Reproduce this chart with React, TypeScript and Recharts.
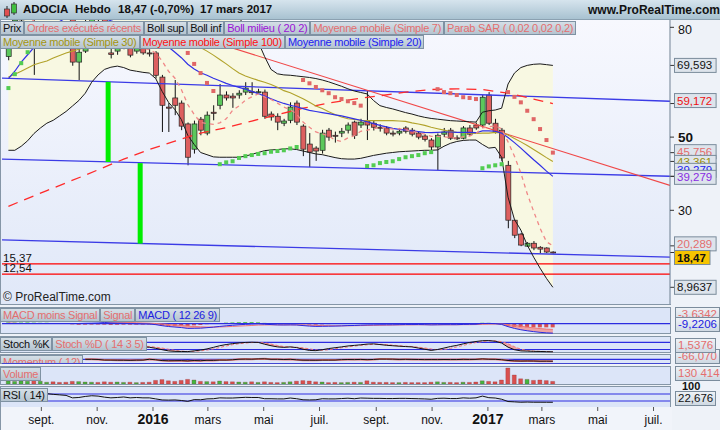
import React from 'react';
import { ComposedChart, Bar, Line, Area, Scatter, XAxis, YAxis, ReferenceLine, Cell } from 'recharts';

// ADOCIA weekly candles, first candle week of 27 Jul 2015, last week of 13 Mar 2017
const firstWeek = '2015-07-27';

const open = [
  72, 78, 82, 84, 88, 85, 89, 92, 90, 88,
  86, 70.5, 73.5, 80, 84, 83, 73.0, 73.5, 74.6, 74.3,
  73.5, 74.6, 73.0, 73.0, 66.4, 58.2, 60.7, 59.3, 53.6, 46.7,
  54.9, 51.1, 56.8, 58.7, 61.5, 61.2, 61.5, 62.3, 62.4, 62.2,
  62.3, 56.3, 55.7, 53.8, 54.6, 59.3, 53.0, 48.1, 47.0, 46.4,
  51.9, 50.5, 51.1, 51.9, 54.1, 53.3, 54.4, 53.8, 52.7, 52.5,
  51.1, 51.1, 52.5, 51.9, 51.1, 50.3, 49.2, 47.3, 50.8, 51.9,
  49.8, 49.7, 52.5, 53.3, 53.3, 61.5, 53.8, 51.9, 42.3, 27.3,
  23.5, 20.2, 21.0, 19.9, 19.7, 18.6,
];
const high = [
  80, 85, 88, 91, 90, 92, 95, 94, 92, 90,
  88, 76, 82, 86, 86, 84, 76, 77, 79, 76,
  76, 75.5, 74, 73.5, 67, 59.3, 65.6, 60, 54, 54.5,
  55.5, 57, 58.7, 64.5, 62.5, 62, 62.8, 65, 65, 63.2,
  63, 57, 56.5, 55, 59.5, 60, 53.5, 51.1, 47.5, 52,
  52.5, 51.5, 52.5, 54, 54.5, 55, 62.8, 54.5, 53.5, 53,
  51.8, 52.5, 53, 52.5, 51.6, 50.8, 49.7, 51, 52.5, 52.5,
  50.5, 53, 53.3, 54, 61.5, 62.3, 55, 52.5, 43.5, 27.5,
  23.8, 21.3, 21.6, 20.2, 19.9, 18.8,
];
const low = [
  71, 76, 79, 82, 67, 83, 87, 86, 85, 83,
  69.5, 65.6, 73, 78, 80, 75, 71.5, 72.5, 74, 71.8,
  72.8, 72.5, 72, 66, 51.4, 51.4, 56, 51.9, 42.3, 45.5,
  50.5, 50.5, 54.6, 57.6, 60, 58, 60.5, 61.5, 61.5, 61.8,
  55, 54.5, 51.9, 53, 53.8, 53.3, 44.8, 41.8, 43.5, 45.5,
  49, 48.5, 50, 51, 49.5, 52.5, 49.2, 51.8, 51.5, 50.5,
  50.2, 50.5, 51, 50.2, 49.4, 48.8, 46.5, 41, 50, 49.2,
  49.2, 49.4, 50.3, 52, 52.5, 53.3, 51, 43.5, 25.1, 22.4,
  20.2, 20.0, 19.1, 18.3, 18.3, 18.2,
];
const close = [
  78, 82, 84, 88, 85, 89, 92, 90, 88, 86,
  70.5, 73.2, 80, 84, 83, 76, 72.6, 74.6, 77, 72.4,
  74.6, 73.0, 72.8, 66.9, 58.7, 57.9, 58.7, 53.0, 44.5, 53.6,
  51.9, 56.0, 56.5, 61.5, 60.7, 60.7, 62.0, 63.4, 62.2, 62.4,
  55.7, 55.5, 54.1, 54.4, 58.2, 54.1, 46.7, 45.9, 46.2, 51.1,
  50.0, 50.4, 51.6, 53.3, 50.5, 54.1, 53.3, 52.7, 52.5, 51.1,
  51.0, 51.6, 51.6, 50.8, 50.0, 49.4, 47.3, 50.5, 51.4, 49.7,
  49.6, 52.5, 50.8, 52.5, 60.9, 53.8, 51.6, 44.3, 27.3, 23.2,
  20.5, 21.0, 19.7, 19.4, 18.6, 18.47,
];
// thousands of shares
const volume = [
  150, 130, 150, 140, 200, 140, 90, 110, 80, 90,
  130, 120, 100, 90, 80, 110, 90, 100, 80, 90,
  70, 80, 90, 180, 220, 160, 130, 180, 230, 200,
  130, 120, 110, 150, 120, 110, 100, 90, 110, 80,
  110, 80, 70, 80, 110, 140, 170, 150, 110, 100,
  70, 80, 70, 80, 90, 80, 160, 90, 80, 80,
  70, 70, 80, 70, 70, 70, 90, 110, 80, 80,
  70, 90, 80, 100, 160, 130, 110, 200, 800, 450,
  260, 230, 180, 200, 170, 130.4,
];

const sma7 = [
  76, 77.5, 79, 81, 82, 83.5, 85.4, 87.1, 88.0, 88.3,
  85.8, 84.1, 82.8, 81.7, 80.7, 79.0, 77.0, 77.6, 78.2, 77.1,
  75.7, 74.3, 73.9, 73.0, 70.8, 68.0, 66.1, 63.0, 58.9, 56.2,
  54.0, 53.7, 53.5, 53.9, 55.0, 57.3, 58.5, 60.1, 61.0, 61.8,
  61.0, 60.3, 59.3, 58.2, 57.5, 56.3, 54.1, 52.7, 51.4, 50.9,
  50.3, 49.2, 48.8, 49.8, 50.4, 51.6, 51.9, 52.3, 52.6, 52.5,
  52.2, 52.3, 52.0, 51.6, 51.2, 50.8, 50.2, 50.2, 50.1, 49.9,
  49.7, 50.1, 50.3, 51.0, 52.5, 52.8, 53.1, 52.3, 48.7, 44.8,
  40.2, 34.5, 29.7, 25.1, 21.4, 20.29,
];
const sma20 = [
  66, 68, 70.5, 72.5, 74.5, 76.5, 78.5, 80.2, 81.6, 82.6,
  82.6, 82.6, 82.8, 83.0, 82.8, 82.4, 81.8, 81.2, 80.6, 80.0,
  79.2, 78.4, 77.8, 76.9, 75.9, 74.6, 73.2, 71.7, 69.9, 68.6,
  67.6, 66.9, 66.1, 65.4, 64.7, 64.1, 63.6, 63.1, 62.5, 61.9,
  61.2, 60.5, 59.8, 59.2, 58.7, 58.3, 57.8, 57.3, 57.0, 56.7,
  56.4, 56.1, 55.8, 55.4, 55.0, 54.6, 54.2, 53.7, 53.2, 52.8,
  52.4, 52.1, 51.9, 51.7, 51.5, 51.3, 51.2, 51.3, 51.4, 51.4,
  51.3, 51.3, 51.3, 51.2, 51.7, 51.7, 51.6, 51.1, 49.9, 48.5,
  47.0, 45.4, 43.8, 42.3, 40.7, 39.28,
];
const sma30 = [
  66.4, 67.2, 68.0, 68.9, 69.8, 70.3, 70.8, 71.6, 72.3, 73.0,
  73.5, 74.0, 74.4, 74.9, 75.4, 75.8, 76.1, 76.4, 76.6, 76.8,
  76.9, 76.9, 76.8, 76.6, 76.4, 76.2, 76.0, 75.7, 75.4, 75.0,
  74.5, 73.5, 72.4, 71.2, 70.0, 68.7, 67.5, 66.7, 66.1, 65.5,
  65.0, 64.4, 63.6, 62.7, 62.1, 61.3, 60.5, 59.5, 58.5, 57.8,
  56.9, 56.2, 55.5, 55.0, 54.8, 54.6, 54.5, 54.5, 54.5, 54.5,
  54.5, 54.4, 54.3, 53.9, 53.6, 53.2, 52.7, 52.3, 51.9, 51.5,
  51.3, 51.2, 51.1, 51.0, 51.1, 51.1, 51.3, 51.2, 50.6, 49.6,
  48.7, 47.7, 46.6, 45.5, 44.4, 43.36,
];
const sma100Idx = [0, 6, 12, 18, 22, 26, 30, 34, 38, 42, 46, 50, 54, 58, 62, 66, 70, 74, 78, 82, 85];
const sma100Val = [31.1, 35.4, 39.6, 44.0, 46.6, 48.9, 51.1, 52.6, 54.4, 56.1, 57.9, 59.3, 60.4, 61.3, 62.3, 63.0, 63.2, 63.0, 62.0, 60.4, 59.17];

const bollUp = [
  85.6, 89.6, 93.5, 96, 98, 100, 102, 104, 105, 105,
  104, 103, 101, 99, 97, 95, 93, 92, 91, 90.5,
  90, 89.5, 89, 89, 89.5, 90, 90, 90, 90, 90,
  90, 89, 88, 87, 85.5, 84, 82.5, 80.5, 78.5, 76,
  72, 68.5, 67.3, 67.0, 66.9, 66.7, 66.5, 66.3, 66.0, 65.6,
  65.1, 64.5, 63.9, 63.2, 62.6, 62.2, 61.8, 60.0, 58.6, 58.1,
  57.7, 57.2, 56.7, 56.3, 55.8, 55.4, 55.1, 54.9, 54.7, 54.5,
  54.4, 54.3, 54.2, 54.1, 56.8, 57.2, 57.4, 57.9, 64.5, 67.5,
  69.0, 69.6, 69.9, 70.0, 69.8, 69.59,
];
const bollLow = [
  46.4, 46.4, 47.5, 49, 51, 52.5, 53.8, 54.6, 55.8, 57,
  58.5, 60, 62, 65, 67, 68.5, 69.1, 69.4, 69, 68.3,
  68, 67.7, 67.5, 66, 62.5, 59.5, 57.5, 54.8, 50.5, 48,
  45.8, 45.2, 44.6, 44.5, 44.5, 44.5, 44.5, 44.8, 45.3, 45.8,
  46.3, 46.5, 46.6, 46.8, 46.8, 46.6, 46.2, 45.8, 45.4, 45.2,
  44.8, 44.4, 44.1, 44.0, 44.0, 44.2, 44.6, 45.0, 45.3, 45.6,
  45.8, 46.0, 46.1, 46.2, 46.3, 46.4, 46.4, 46.5, 47.5, 48.3,
  48.8, 49.1, 49.2, 49.2, 48.0, 47.0, 47.2, 44.5, 33.6, 27.5,
  24.6, 20.5, 17.2, 14.2, 11.4, 8.96,
];

// parabolic SAR (candle index, value), only the visible dots
const sarRedIdx = [28, 29, 30, 31, 32, 46, 47, 48, 49, 50, 51, 52, 53, 54, 55, 67, 68, 69, 70, 71, 72, 73, 78, 79, 80, 81, 82, 83, 84, 85];
const sarRedVal = [73.0, 70.0, 67.5, 64.8, 62.6, 65.6, 64.7, 63.7, 62.8, 62.0, 60.9, 60.4, 59.8, 59.3, 58.6, 63.1, 62.3, 62.0, 61.5, 60.9, 60.7, 60.4, 62.3, 61.0, 59.5, 57.2, 54.9, 52.2, 49.2, 45.76];
const sarGreenIdx = [0, 1, 2, 3, 33, 34, 35, 36, 37, 38, 39, 40, 41, 42, 43, 44, 45, 56, 57, 58, 59, 60, 61, 62, 63, 64, 65, 66, 74, 75, 76, 77];
const sarGreenVal = [63.4, 67.2, 70.2, 73.2, 42.6, 43.1, 43.4, 44.3, 44.8, 45.1, 45.4, 45.6, 46.0, 46.2, 46.4, 46.9, 47.3, 42.1, 42.3, 42.9, 43.2, 43.4, 44.0, 44.5, 44.8, 45.1, 45.6, 45.9, 41.5, 42.0, 42.3, 42.6];

const macd = [
  2.5, 2.8, 3.1, 3.5, 3.6, 3.8, 4.0, 4.0, 3.8, 3.5,
  2.6, 2.0, 1.8, 1.7, 1.5, 1.1, 0.6, 0.4, 0.3, 0.0,
  -0.2, -0.3, -0.4, -1.0, -2.0, -2.8, -3.3, -3.8, -4.6, -4.5,
  -4.4, -3.9, -3.4, -2.7, -2.1, -1.6, -1.1, -0.7, -0.4, -0.2,
  -0.6, -0.9, -1.2, -1.3, -1.2, -1.3, -1.9, -2.4, -2.7, -2.6,
  -2.5, -2.4, -2.2, -1.9, -1.8, -1.5, -1.3, -1.2, -1.1, -1.1,
  -1.1, -1.0, -0.9, -0.9, -0.9, -1.0, -1.2, -1.1, -1.0, -1.0,
  -1.0, -0.8, -0.7, -0.6, 0.1, 0.2, 0.0, -0.8, -2.9, -4.6,
  -5.9, -6.9, -7.7, -8.4, -8.9, -9.22,
];
const signal = [
  1.5, 1.8, 2.1, 2.4, 2.7, 3.0, 3.2, 3.4, 3.5, 3.5,
  3.3, 3.1, 2.8, 2.6, 2.4, 2.1, 1.8, 1.5, 1.3, 1.0,
  0.8, 0.6, 0.4, 0.1, -0.3, -0.8, -1.3, -1.8, -2.4, -2.8,
  -3.1, -3.3, -3.3, -3.2, -3.0, -2.7, -2.4, -2.1, -1.8, -1.4,
  -1.3, -1.2, -1.2, -1.2, -1.2, -1.2, -1.3, -1.5, -1.7, -1.9,
  -2.0, -2.1, -2.1, -2.1, -2.0, -1.9, -1.8, -1.7, -1.6, -1.5,
  -1.4, -1.3, -1.2, -1.2, -1.1, -1.1, -1.1, -1.1, -1.1, -1.1,
  -1.1, -1.0, -1.0, -0.9, -0.7, -0.5, -0.4, -0.5, -1.0, -1.7,
  -2.5, -3.4, -4.1, -4.8, -5.3, -5.59,
];
const macdHist = [
  1.0, 1.0, 1.0, 1.1, 0.9, 0.8, 0.8, 0.6, 0.3, 0.0,
  -0.7, -1.1, -1.0, -0.9, -0.9, -1.0, -1.2, -1.1, -1.0, -1.0,
  -1.0, -0.9, -0.8, -1.1, -1.7, -2.0, -2.0, -2.0, -2.2, -1.7,
  -1.3, -0.6, -0.1, 0.5, 0.9, 1.1, 1.3, 1.4, 1.4, 1.2,
  0.7, 0.3, 0.0, -0.1, 0.0, -0.1, -0.6, -0.9, -1.0, -0.7,
  -0.5, -0.3, -0.1, 0.2, 0.2, 0.4, 0.5, 0.5, 0.5, 0.4,
  0.3, 0.3, 0.3, 0.3, 0.2, 0.1, -0.1, 0.0, 0.1, 0.1,
  0.1, 0.2, 0.3, 0.3, 0.8, 0.7, 0.4, -0.3, -1.9, -2.9,
  -3.4, -3.5, -3.6, -3.6, -3.6, -3.63,
];

const stochK = [
  85, 88, 80, 90, 70, 85, 92, 80, 70, 65,
  30, 40, 70, 85, 80, 55, 40, 55, 65, 45,
  45, 42, 39, 30, 18, 8, 4, 3, 2, 8,
  15, 25, 38, 52, 62, 70, 76, 80, 82, 80,
  65, 52, 42, 38, 42, 36, 22, 12, 10, 18,
  28, 35, 42, 50, 55, 60, 66, 68, 62, 56,
  52, 48, 45, 42, 32, 22, 12, 20, 32, 45,
  55, 68, 80, 88, 95, 96, 90, 75, 40, 18,
  8, 6, 4, 3, 1.5, 0.5,
];
const stochD = [
  80, 84, 84, 85, 80, 80, 82, 86, 81, 75,
  55, 45, 47, 65, 78, 73, 58, 50, 53, 55,
  55, 50, 45, 40, 32, 22, 12, 6, 3, 4,
  8, 15, 25, 37, 50, 61, 69, 75, 79, 81,
  76, 66, 54, 45, 41, 39, 34, 25, 16, 13,
  18, 26, 35, 42, 49, 55, 60, 64, 65, 62,
  57, 52, 48, 45, 40, 33, 24, 18, 20, 30,
  42, 55, 68, 79, 88, 93, 94, 87, 68, 44,
  22, 11, 6, 4, 2.5, 1.54,
];
const momentum = [
  null, null, null, null, null, null, null, null, null, null, null, null,
  2, 2, -1, -12, -12.4, -14.4, -15, -17.6, -13.4, -13,
  2.3, -6.3, -21.3, -26.1, -24.3, -23, -28.1, -21, -25.1, -16.4,
  -18.1, -11.5, -12.1, -6.2, 3.3, 5.5, 3.5, 9.4, 11.2, 1.9,
  2.2, -1.6, 1.7, -7.4, -14, -14.8, -15.8, -12.3, -12.2, -12,
  -4.1, -2.2, -3.6, -0.3, -4.9, -1.4, 5.8, 5.2, 4.8, 0.5,
  1.6, 0.4, -1.6, -3.9, -3.2, -3.6, -1.9, -3, -2.9, 1.4,
  -0.2, 0.9, 9.3, 3, 1.6, -5.1, -20, -27.3, -30.9, -28.7,
  -29.9, -33.1, -32.2, -34,
];
const rsi = [
  68, 70, 70, 72, 68, 70, 72, 68, 65, 62,
  48, 50, 56, 60, 58, 52, 48, 50, 53, 48,
  50, 48, 48, 42, 36, 35, 36, 33, 28, 38,
  37, 42, 43, 48, 47, 47, 49, 51, 50, 50,
  43, 43, 42, 42, 47, 43, 37, 36, 37, 43,
  42, 42, 44, 46, 43, 47, 46, 45, 45, 44,
  44, 45, 45, 44, 43, 42, 40, 45, 46, 44,
  44, 48, 46, 48, 58, 49, 47, 40, 27, 25,
  23, 24, 23, 23, 22.8, 22.676,
];

// x axis
const tickDates = ['2015-09-01', '2015-11-01', '2016-01-01', '2016-03-01', '2016-05-01', '2016-07-01', '2016-09-01', '2016-11-01', '2017-01-01', '2017-03-01', '2017-05-01', '2017-07-01'];
const tickLabels = ['sept.', 'nov.', '2016', 'mars', 'mai', 'juil.', 'sept.', 'nov.', '2017', 'mars', 'mai', 'juil.'];
const viewStart = '2015-07-20';
const viewEnd = '2017-07-19';

// drawn objects: [date, price] -> [date, price]
const blueLines = [
  [['2015-07-20', 66.1], ['2017-07-19', 59.8]],
  [['2015-07-20', 44.0], ['2017-07-19', 39.3]],
  [['2015-07-20', 21.9], ['2017-07-19', 17.2]],
];
const redLine = [['2015-12-29', 81.4], ['2017-07-19', 36.8]];
const greenBars = [
  [['2015-11-13', 65.1], ['2015-11-13', 43.2]],
  [['2015-12-18', 42.9], ['2015-12-18', 20.9]],
];
const levels = [15.37, 12.54];

const DAY0 = Date.UTC(2016, 0, 1);
const dayOf = (iso: string) => Math.round((Date.parse(iso + 'T00:00:00Z') - DAY0) / 86400000);
const firstDay = dayOf(firstWeek);
const xDomain = [dayOf(viewStart), dayOf(viewEnd)];
const tickDays = tickDates.map(dayOf);

const rows = close.map((c, k) => {
  const m = macd[k];
  const s = signal[k];
  return {
    day: firstDay + 7 * k,
    open: open[k],
    high: high[k],
    low: low[k],
    close: c,
    range: [low[k], high[k]],
    sma7: sma7[k],
    sma20: sma20[k],
    sma30: sma30[k],
    sma100: sma100Idx.indexOf(k) >= 0 ? sma100Val[sma100Idx.indexOf(k)] : null,
    band: [bollLow[k], bollUp[k]],
    bollUp: bollUp[k],
    bollLow: bollLow[k],
    vol: volume[k],
    macd: m,
    signal: s,
    hist: macdHist[k],
    macdFill: s > m ? [m, s] : [m, m],
    k: stochK[k],
    d: stochD[k],
    stochFill: stochD[k] > stochK[k] ? [stochK[k], stochD[k]] : [stochK[k], stochK[k]],
    mom: momentum[k],
    rsi: rsi[k],
  };
});
const sarRed = sarRedIdx.map((k, j) => ({ day: firstDay + 7 * k, sar: sarRedVal[j] }));
const sarGreen = sarGreenIdx.map((k, j) => ({ day: firstDay + 7 * k, sar: sarGreenVal[j] }));

const FONT = '"Liberation Sans", Arial, sans-serif';
const RED = '#dd5f5f';
const GREEN = '#5cc85c';
const PINK = '#e46e6e';

const Candle = (props: any) => {
  const { x, width, payload } = props;
  let { y, height } = props;
  if (height < 0) { y += height; height = -height; }
  const { open: o, close: c, high: h, low: l } = payload;
  const k = height / (h - l || 1);
  const yOf = (v: number) => y + (h - v) * k;
  const cx = x + width / 2;
  const top = yOf(Math.max(o, c));
  const bot = yOf(Math.min(o, c));
  return (
    <g>
      <line x1={cx} x2={cx} y1={y} y2={y + height} stroke="#111" strokeWidth={1} />
      <rect x={x} y={top} width={width} height={Math.max(1, bot - top)} fill={c >= o ? GREEN : RED} stroke="#222" strokeWidth={0.7} />
    </g>
  );
};

const ValueBox = (props: any) => {
  const { viewBox, text, color, bg = '#dde4ec', dy = 0, bold = false } = props;
  if (!viewBox) return null;
  const right = viewBox.x + viewBox.width;
  const y = viewBox.y + dy;
  const w = text.length * 6.1 + 5;
  return (
    <g>
      <line x1={right} x2={right + 4} y1={viewBox.y} y2={viewBox.y} stroke="#333" />
      <rect x={right + 4.5} y={y - 7} width={w} height={14} fill={bg} stroke="#7b8c9c" />
      <text x={right + 7} y={y + 4} fontSize={11.5} fill={color} fontFamily={FONT} fontWeight={bold ? 'bold' : 'normal'}>{text}</text>
    </g>
  );
};

const LevelLabel = (props: any) => {
  const { viewBox, text } = props;
  if (!viewBox) return null;
  return <text x={viewBox.x + 1} y={viewBox.y - 2} fontSize={11.5} fill="#111" fontFamily={FONT}>{text}</text>;
};

const PriceTick = (props: any) => {
  const { x, y, payload } = props;
  const big = payload.value === 50;
  return (
    <text x={x + 2} y={y + 5} fontSize={big ? 13.5 : 12.5} fontWeight={big ? 'bold' : 'normal'} fill="#111" fontFamily={FONT}>
      {payload.value}
    </text>
  );
};

const MonthTick = (props: any) => {
  const { x, y, index } = props;
  const label = tickLabels[index];
  const year = /^\d{4}$/.test(label);
  return (
    <text x={x} y={y + 11} textAnchor="middle" fontSize={year ? 14 : 12} fontWeight={year ? 'bold' : 'normal'} fill="#111" fontFamily={FONT}>
      {label}
    </text>
  );
};

const legendBox: React.CSSProperties = {
  background: 'linear-gradient(#d5dfe7, #b5c4d0)',
  border: '1px solid #7f92a3',
  font: `11px ${FONT}`,
  letterSpacing: '-0.25px',
  lineHeight: '12px',
  height: 12,
  padding: '0 2px',
  whiteSpace: 'nowrap',
};

const LegendRow = ({ items, top }: { items: [string, string][]; top: number }) => (
  <div style={{ position: 'absolute', left: 0, top, display: 'flex' }}>
    {items.map(([t, c], i) => (
      <span key={i} style={{ ...legendBox, color: c }}>{t}</span>
    ))}
  </div>
);

const SideBox = ({ top, text, color }: { top: number; text: string; color: string }) => (
  <div style={{ position: 'absolute', left: 675, top, height: 13, lineHeight: '13px', padding: '0 2px', border: '1px solid #7b8c9c', background: 'linear-gradient(#eef2f6, #cfd9e3)', font: `11.5px ${FONT}`, color, whiteSpace: 'nowrap' }}>{text}</div>
);

const PanelFrame = ({ top, height }: { top: number; height: number }) => (
  <div style={{ position: 'absolute', left: 0, top, width: 671, height, boxSizing: 'border-box', border: '1px solid #8596a7', background: '#dce5f8' }} />
);

const W = 720;
const MARGIN = { top: 0, right: 50, bottom: 0, left: 2 };
const headText: React.CSSProperties = { position: 'absolute', top: 3, font: `bold 11.5px ${FONT}`, color: '#111', whiteSpace: 'nowrap' };

export default function App() {
  const xAxis = <XAxis type="number" dataKey="day" domain={xDomain} allowDataOverflow hide />;
  return (
    <div style={{ position: 'absolute', left: 0, top: 0, width: 720, height: 430, overflow: 'hidden', background: '#eef2f8', fontFamily: FONT }}>
      {/* header */}
      <div style={{ position: 'absolute', left: 0, top: 0, width: 720, height: 19, background: 'linear-gradient(#d6e4ed, #a8c2d1)', borderBottom: '1px solid #8ba1b1' }}>
        <svg width={18} height={19} style={{ position: 'absolute', left: 2, top: 0 }}>
          <line x1={5} x2={5} y1={6} y2={18} stroke="#222" />
          <rect x={2.5} y={9} width={5} height={7} fill="#e05050" stroke="#333" strokeWidth={0.7} />
          <line x1={12} x2={12} y1={2} y2={15} stroke="#222" />
          <rect x={9.5} y={4} width={5} height={9} fill="#40c040" stroke="#333" strokeWidth={0.7} />
        </svg>
        <span style={{ ...headText, left: 23 }}>ADOCIA</span>
        <span style={{ ...headText, left: 75 }}>Hebdo</span>
        <span style={{ ...headText, left: 118 }}>18,47 (-0,70%)</span>
        <span style={{ ...headText, left: 200 }}>17 mars 2017</span>
        <span style={{ ...headText, left: 588, font: `bold 12px ${FONT}` }}>www.ProRealTime.com</span>
      </div>

      {/* main price panel */}
      <div style={{ position: 'absolute', left: 0, top: 20, width: 671, height: 285, boxSizing: 'border-box', borderLeft: '1px solid #8596a7', borderBottom: '1px solid #8596a7', background: 'linear-gradient(#f7f8fe, #e0e8f8)' }} />
      <div style={{ position: 'absolute', left: 0, top: 20 }}>
        <ComposedChart width={W} height={284} data={rows} margin={{ top: 0, right: 0, bottom: 0, left: 2 }}>
          {xAxis}
          <YAxis orientation="right" width={50} domain={[4.4, 82]} allowDataOverflow ticks={[30, 50, 80]} tick={<PriceTick />} tickSize={4} axisLine={{ stroke: '#6f8091' }} tickLine={{ stroke: '#333' }} />
          <Area dataKey="band" stroke="none" fill="#f8f8e2" fillOpacity={1} isAnimationActive={false} />
          {levels.map((v) => (
            <ReferenceLine key={v} y={v} stroke="#ff0000" strokeWidth={1.2} label={<LevelLabel text={String(v).replace('.', ',')} />} />
          ))}
          {blueLines.map((seg, i) => (
            <ReferenceLine key={'b' + i} segment={seg.map(([d, v]) => ({ x: dayOf(d as string), y: v as number }))} stroke="#3b3be6" strokeWidth={1.3} ifOverflow="hidden" />
          ))}
          <ReferenceLine segment={redLine.map(([d, v]) => ({ x: dayOf(d as string), y: v as number }))} stroke="#f04848" strokeWidth={1.1} ifOverflow="hidden" />
          {greenBars.map((seg, i) => (
            <ReferenceLine key={'g' + i} segment={seg.map(([d, v]) => ({ x: dayOf(d as string), y: v as number }))} stroke="#00ee00" strokeWidth={5} ifOverflow="hidden" />
          ))}
          <Line dataKey="bollUp" stroke="#1a1a1a" strokeWidth={1} dot={false} isAnimationActive={false} />
          <Line dataKey="bollLow" stroke="#1a1a1a" strokeWidth={1} dot={false} isAnimationActive={false} />
          <Line dataKey="sma100" stroke="#ff2a2a" strokeWidth={1.3} strokeDasharray="10 7" dot={false} connectNulls isAnimationActive={false} />
          <Line dataKey="sma30" stroke="#b1a22a" strokeWidth={1.1} dot={false} isAnimationActive={false} />
          <Line dataKey="sma20" stroke="#3030e6" strokeWidth={1.2} dot={false} isAnimationActive={false} />
          <Line dataKey="sma7" stroke="#f08888" strokeWidth={1.3} strokeDasharray="4 4" dot={false} isAnimationActive={false} />
          <Bar dataKey="range" barSize={5} shape={<Candle />} isAnimationActive={false} />
          <Scatter data={sarRed} dataKey="sar" isAnimationActive={false} shape={(p: any) => <rect x={p.cx - 2} y={p.cy - 2} width={4} height={4} fill="#e06666" />} />
          <Scatter data={sarGreen} dataKey="sar" isAnimationActive={false} shape={(p: any) => <rect x={p.cx - 2} y={p.cy - 2} width={4} height={4} fill="#52cc52" />} />
          <ReferenceLine y={69.593} stroke="none" label={<ValueBox text="69,593" color="#111" />} />
          <ReferenceLine y={59.172} stroke="none" label={<ValueBox text="59,172" color="#ee1111" dy={-3} />} />
          <ReferenceLine y={45.756} stroke="none" label={<ValueBox text="45,756" color={PINK} dy={-1} />} />
          <ReferenceLine y={43.361} stroke="none" label={<ValueBox text="43,361" color="#9b8c00" dy={1} />} />
          <ReferenceLine y={39.279} stroke="none" label={<ValueBox text="39,279" color="#2222ee" dy={-6} />} />
          <ReferenceLine y={39.279} stroke="none" label={<ValueBox text="39,279" color="#8a2be2" dy={1} />} />
          <ReferenceLine y={20.289} stroke="none" label={<ValueBox text="20,289" color={PINK} dy={-2} />} />
          <ReferenceLine y={18.47} stroke="none" label={<ValueBox text="18,47" color="#111" bg="#f6c400" dy={5} bold />} />
          <ReferenceLine y={8.9637} stroke="none" label={<ValueBox text="8,9637" color="#111" />} />
        </ComposedChart>
      </div>
      <LegendRow top={21} items={[
        ['Prix', '#111'],
        ['Ordres exécutés récents', PINK],
        ['Boll sup', '#111'],
        ['Boll inf', '#111'],
        ['Boll milieu ( 20 2)', '#9b12d6'],
        ['Moyenne mobile (Simple 7)', PINK],
        ['Parab SAR ( 0,02 0,02 0,2)', PINK],
      ]} />
      <LegendRow top={35} items={[
        ['Moyenne mobile (Simple 30)', '#a39512'],
        ['Moyenne mobile (Simple 100)', '#ff1010'],
        ['Moyenne mobile (Simple 20)', '#2020f0'],
      ]} />
      <div style={{ position: 'absolute', left: 3, top: 290, font: `12px ${FONT}`, color: '#222' }}>© ProRealTime.com</div>

      {/* MACD */}
      <PanelFrame top={307} height={27} />
      <div style={{ position: 'absolute', left: 0, top: 307 }}>
        <ComposedChart width={W} height={27} data={rows} margin={MARGIN}>
          {xAxis}
          <YAxis hide domain={[-10, 16]} allowDataOverflow />
          <ReferenceLine y={0} stroke="#2c2ce0" strokeWidth={1.2} />
          <Bar dataKey="hist" barSize={4} isAnimationActive={false}>
            {rows.map((r, i) => <Cell key={i} fill={r.hist >= 0 ? '#3fb83f' : '#d94f4f'} />)}
          </Bar>
          <Area dataKey="macdFill" stroke="none" fill="#ef9a9a" fillOpacity={0.9} isAnimationActive={false} />
          <Line dataKey="signal" stroke="#ee7777" strokeWidth={1} dot={false} isAnimationActive={false} />
          <Line dataKey="macd" stroke="#2a2ae0" strokeWidth={1} dot={false} isAnimationActive={false} />
        </ComposedChart>
      </div>
      <LegendRow top={308} items={[['MACD moins Signal', PINK], ['Signal', PINK], ['MACD ( 12 26 9)', '#2020e0']]} />
      <SideBox top={307} text="-3,6342" color={PINK} />
      <SideBox top={317} text="-9,2206" color="#2020e0" />

      {/* Stochastic */}
      <PanelFrame top={336} height={17} />
      <div style={{ position: 'absolute', left: 0, top: 336 }}>
        <ComposedChart width={W} height={17} data={rows} margin={MARGIN}>
          {xAxis}
          <YAxis hide domain={[-10, 135]} allowDataOverflow />
          <ReferenceLine y={80} stroke="#2c2ce0" strokeWidth={1.2} />
          <ReferenceLine y={20} stroke="#2c2ce0" strokeWidth={1.2} />
          <Area dataKey="stochFill" stroke="none" fill="#ef9a9a" fillOpacity={0.9} isAnimationActive={false} />
          <Line dataKey="d" stroke="#ee7777" strokeWidth={1} strokeDasharray="3 2" dot={false} isAnimationActive={false} />
          <Line dataKey="k" stroke="#111" strokeWidth={1} dot={false} isAnimationActive={false} />
        </ComposedChart>
      </div>
      <LegendRow top={337} items={[['Stoch %K', '#111'], ['Stoch %D ( 14 3 5)', PINK]]} />

      {/* Momentum */}
      <PanelFrame top={354} height={10} />
      <div style={{ position: 'absolute', left: 0, top: 354 }}>
        <ComposedChart width={W} height={10} data={rows} margin={MARGIN}>
          {xAxis}
          <YAxis hide domain={[-85, 100]} allowDataOverflow />
          <ReferenceLine y={0} stroke="#2c2ce0" strokeWidth={1.2} />
          <ReferenceLine y={-80} stroke="#2c2ce0" strokeWidth={1.2} />
          <Line dataKey="mom" stroke="#ee7777" strokeWidth={2} dot={false} isAnimationActive={false} />
          <Line dataKey="mom" stroke="#111" strokeWidth={1} dot={false} isAnimationActive={false} />
        </ComposedChart>
      </div>
      <div style={{ position: 'absolute', left: 0, top: 355, width: 200, height: 8, overflow: 'hidden' }}>
        <LegendRow top={0} items={[['Momentum ( 12)', PINK]]} />
      </div>
      <SideBox top={349} text="-66,070" color={PINK} />
      <SideBox top={338} text="1,5376" color={PINK} />

      {/* Volume */}
      <PanelFrame top={366} height={19} />
      <div style={{ position: 'absolute', left: 0, top: 366 }}>
        <ComposedChart width={W} height={18} data={rows} margin={MARGIN}>
          {xAxis}
          <YAxis hide domain={[0, 900]} allowDataOverflow />
          <Bar dataKey="vol" barSize={4} isAnimationActive={false}>
            {rows.map((r, i) => <Cell key={i} fill={r.close >= r.open ? '#3fb83f' : '#d94f4f'} stroke="#8a3030" strokeWidth={0.3} />)}
          </Bar>
        </ComposedChart>
      </div>
      <LegendRow top={367} items={[['Volume', PINK]]} />
      <div style={{ position: 'absolute', left: 682, top: 380, font: `bold 11px ${FONT}`, color: '#111' }}>100</div>
      <SideBox top={366} text="130 414" color={PINK} />

      {/* RSI + time axis */}
      <PanelFrame top={386} height={22} />
      <div style={{ position: 'absolute', left: 0, top: 407, width: 671, height: 23, borderLeft: '1px solid #8596a7', background: '#f1f4fa' }} />
      <div style={{ position: 'absolute', left: 0, top: 386 }}>
        <ComposedChart width={W} height={44} data={rows} margin={MARGIN}>
          <XAxis type="number" dataKey="day" domain={xDomain} allowDataOverflow ticks={tickDays} tick={<MonthTick />} interval={0} height={23} tickSize={4} axisLine={false} tickLine={{ stroke: '#555' }} />
          <YAxis hide domain={[-4.3, 115.7]} allowDataOverflow />
          <ReferenceLine y={70} stroke="#2c2ce0" strokeWidth={1.2} />
          <ReferenceLine y={30} stroke="#2c2ce0" strokeWidth={1.2} />
          <Line dataKey="rsi" stroke="#111" strokeWidth={1} dot={false} isAnimationActive={false} />
        </ComposedChart>
      </div>
      <LegendRow top={388} items={[['RSI ( 14)', '#111']]} />
      <SideBox top={391} text="22,676" color="#111" />
    </div>
  );
}
